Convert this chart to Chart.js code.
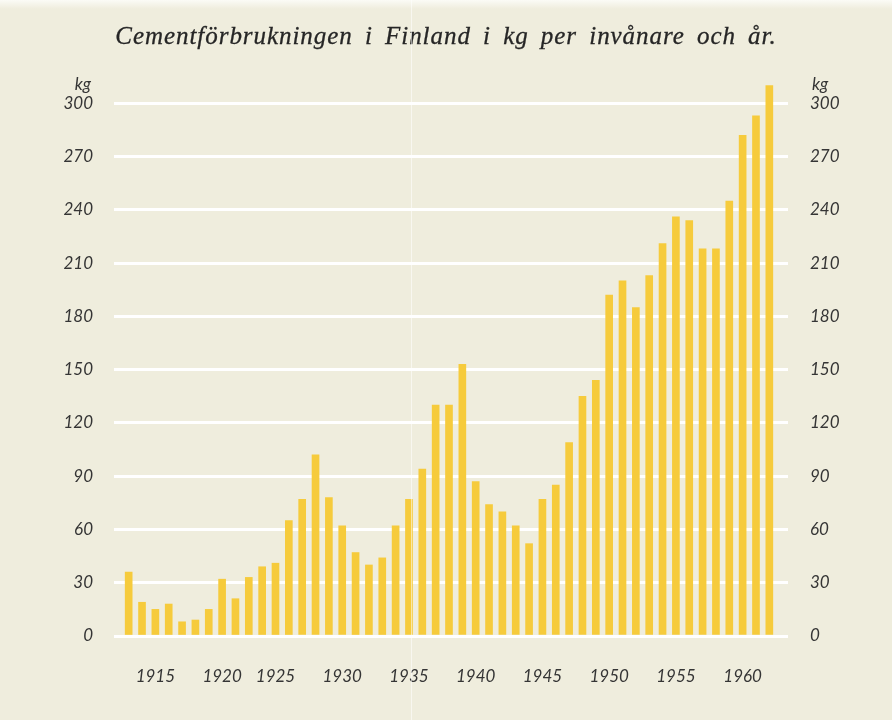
<!DOCTYPE html>
<html>
<head>
<meta charset="utf-8">
<script src="https://cdn.jsdelivr.net/npm/chart.js@4.4.1/dist/chart.umd.min.js"></script>
<style>
html, body { margin: 0; padding: 0; background: #efeddd; }
#wrap { position: relative; width: 892px; height: 720px; overflow: hidden; background: #efeddd; }
#topband { position: absolute; left: 0; top: 0; width: 892px; height: 9px; background: linear-gradient(#fbfbf6, #efeddd); }
#title { position: absolute; left: 0; top: 22px; width: 892px; text-align: center;
  font: italic 25px "Liberation Serif", serif; letter-spacing: 0.95px; word-spacing: 5px; color: #262626;
  -webkit-text-stroke: 0.3px #262626; }
.kg { position: absolute; top: 73px; font: italic 17px Lato, sans-serif; color: #353535; }
#fold { position: absolute; left: 411px; top: 0; width: 1px; height: 720px; background: rgba(255,255,255,0.55); }
canvas { position: absolute; left: 0; top: 0; }
</style>
</head>
<body>
<div id="wrap">
  <div id="topband"></div>
  <canvas id="myChart" width="892" height="720"></canvas>
  <div id="title">Cementförbrukningen i Finland i kg per invånare och år.</div>
  <div class="kg" style="right:801px">kg</div>
  <div class="kg" style="left:812px">kg</div>
  <div id="fold"></div>
</div>
<script>
// years shown as bars (the 1920s group in the original only has four bars)
var years = ['1913','1914','1915','1916','1917','1918','1919','1920','1921','1922','1923',
  '1925','1926','1927','1928','1929','1930','1931','1932','1933','1934',
  '1935','1936','1937','1938','1939','1940','1941','1942','1943','1944',
  '1945','1946','1947','1948','1949','1950','1951','1952','1953','1954',
  '1955','1956','1957','1958','1959','1960','1961','1962'];

var kgPerCapita = [36, 19, 15, 18, 8, 9, 15, 32, 21, 33, 39,
  41, 65, 77, 102, 78, 62, 47, 40, 44, 62,
  77, 94, 130, 130, 153, 87, 74, 70, 62, 52,
  77, 85, 109, 135, 144, 192, 200, 185, 203, 221,
  236, 234, 218, 218, 245, 282, 293, 310];

var yearLabels = ['1915','1920','1925','1930','1935','1940','1945','1950','1955','1960'];
var yTicks = [0, 30, 60, 90, 120, 150, 180, 210, 240, 270, 300];

var tickFont = { family: 'Lato', style: 'italic', size: 17 };
var inkColor = '#353535';

function keepTicks(scale) {
    scale.ticks = yTicks.map(function(v){ return { value: v }; });
}

var ctx = document.getElementById('myChart').getContext('2d');
var chart = new Chart(ctx, {
    type: 'bar',
    data: {
        labels: years,
        datasets: [{
            data: kgPerCapita,
            backgroundColor: '#f6cb3c',
            barThickness: 7,
            yAxisID: 'y'
        }]
    },
    options: {
        responsive: false,
        animation: false,
        layout: { padding: { top: 82, left: 0, right: 0, bottom: 0 } },
        plugins: { legend: { display: false }, tooltip: { enabled: false } },
        scales: {
            x: {
                grid: { display: false, drawTicks: false },
                border: { display: false },
                ticks: {
                    autoSkip: false, maxRotation: 0, padding: 30,
                    color: inkColor, font: tickFont,
                    callback: function(v) {
                        var y = this.getLabelForValue(v);
                        return yearLabels.indexOf(y) >= 0 ? y : '';
                    }
                },
                afterFit: function(s) { s.height = 84; }
            },
            y: {
                position: 'left', min: 0, max: 312,
                afterBuildTicks: keepTicks,
                grid: { color: '#ffffff', lineWidth: 3, tickLength: 8, tickColor: '#ffffff', tickWidth: 3 },
                border: { display: false },
                ticks: { padding: 21, color: inkColor, font: tickFont },
                afterFit: function(s) { s.width = 122; }
            },
            y2: {
                position: 'right', min: 0, max: 312,
                afterBuildTicks: keepTicks,
                grid: { drawOnChartArea: false, color: '#ffffff', tickLength: 12, tickColor: '#ffffff', tickWidth: 3 },
                border: { display: false },
                ticks: { padding: 22, color: inkColor, font: tickFont },
                afterFit: function(s) { s.width = 116; }
            }
        }
    }
});
</script>
</body>
</html>
